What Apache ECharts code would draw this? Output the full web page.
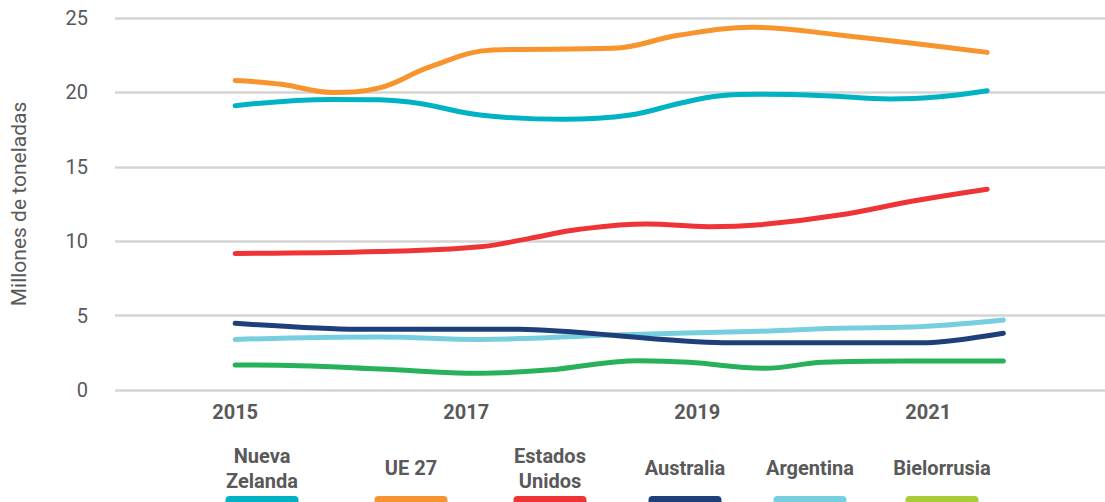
<!DOCTYPE html>
<html>
<head>
<meta charset="utf-8">
<script src="https://cdn.jsdelivr.net/npm/echarts@6/dist/echarts.min.js"></script>
<style>
  html, body { margin: 0; padding: 0; background: #fff; }
  #chart { width: 1105px; height: 502px; }
</style>
</head>
<body>
<div id="chart"></div>
<script>
// x tick labels (years) and y axis
var yearLabels = [2015, 2017, 2019, 2021];
var yMin = 0, yMax = 25, yStep = 5;

// series values, [year, millones de toneladas]
var nuevaZelanda = [[2015.00, 19.11], [2015.84, 19.53], [2016.25, 19.50], [2016.60, 19.25], [2017.12, 18.48], [2017.84, 18.19], [2018.42, 18.48], [2018.85, 19.27], [2019.20, 19.78], [2019.54, 19.87], [2020.10, 19.78], [2020.67, 19.56], [2021.10, 19.71], [2021.51, 20.11]];
var ue27 = [[2015.00, 20.80], [2015.40, 20.55], [2015.84, 20.00], [2016.25, 20.30], [2016.68, 21.70], [2017.23, 22.85], [2018.27, 22.96], [2018.85, 23.86], [2019.48, 24.37], [2020.23, 23.86], [2021.51, 22.69]];
var estadosUnidos = [[2015.00, 9.18], [2016.25, 9.30], [2017.12, 9.63], [2017.55, 10.19], [2017.98, 10.80], [2018.56, 11.16], [2019.10, 10.97], [2019.54, 11.10], [2020.23, 11.76], [2020.87, 12.70], [2021.51, 13.49]];
var australia = [[2015.00, 4.48], [2016.05, 4.08], [2017.46, 4.08], [2019.22, 3.18], [2020.99, 3.18], [2021.65, 3.81]];
var argentina = [[2015.00, 3.40], [2016.25, 3.56], [2017.12, 3.40], [2018.27, 3.70], [2019.54, 3.95], [2020.23, 4.15], [2020.95, 4.26], [2021.65, 4.70]];
var bielorrusia = [[2015.00, 1.68], [2015.56, 1.63], [2016.25, 1.41], [2017.12, 1.12], [2017.70, 1.34], [2018.50, 1.97], [2018.93, 1.86], [2019.58, 1.46], [2020.09, 1.86], [2020.81, 1.95], [2021.65, 1.95]];

var seriesNames = ['Nueva Zelanda', 'UE 27', 'Estados Unidos', 'Australia', 'Argentina', 'Bielorrusia'];
var legendLabels = ['Nueva\nZelanda', 'UE 27', 'Estados\nUnidos', 'Australia', 'Argentina', 'Bielorrusia'];
var seriesData = [nuevaZelanda, ue27, estadosUnidos, australia, argentina, bielorrusia];

var lineColors = ['#00b3c4', '#f7942e', '#ee3437', '#1f3f7a', '#76cfde', '#26b15a'];
var legendColors = ['#00b3c4', '#f7942e', '#ee3437', '#1f3f7a', '#76cfde', '#a8cb36'];
var smoothness = [0.4, 0.4, 0.4, 0.25, 0.4, 0.4];

var textColor = '#595959';
var fontFamily = 'Roboto, "Noto Sans", sans-serif';

var chart = echarts.init(document.getElementById('chart'), null, { renderer: 'svg' });

// legend drawn under the chart: label on top, coloured bar below
var legendX = [262, 411, 550, 685, 810, 942];
var legendItems = [];
for (var i = 0; i < seriesNames.length; i++) {
  legendItems.push({
    type: 'text',
    x: legendX[i],
    y: 468,
    style: {
      text: legendLabels[i],
      fill: textColor,
      font: 'bold 20px ' + fontFamily,
      lineHeight: 25,
      align: 'center',
      verticalAlign: 'middle'
    }
  });
  legendItems.push({
    type: 'rect',
    shape: { x: legendX[i] - 36.5, y: 496, width: 73, height: 14, r: 4 },
    style: { fill: legendColors[i] }
  });
}

var option = {
  backgroundColor: '#fff',
  animation: false,
  grid: {
    left: 115,
    right: 0,
    top: 18,
    bottom: 112
  },
  xAxis: {
    type: 'value',
    min: 2013.96,
    max: 2022.53,
    axisLine: { show: false },
    axisTick: { show: false },
    splitLine: { show: false },
    axisLabel: {
      customValues: yearLabels,
      formatter: function (v) { return String(Math.round(v)); },
      color: textColor,
      fontSize: 20,
      fontWeight: 'bold',
      fontFamily: fontFamily,
      margin: 12
    }
  },
  yAxis: {
    type: 'value',
    min: yMin,
    max: yMax,
    interval: yStep,
    name: 'Millones de toneladas',
    nameLocation: 'middle',
    nameGap: 86,
    nameRotate: 90,
    nameTextStyle: {
      color: textColor,
      fontSize: 21,
      fontFamily: fontFamily
    },
    axisLine: { show: false },
    axisTick: { show: false },
    axisLabel: {
      color: textColor,
      fontSize: 20,
      fontFamily: fontFamily,
      margin: 27
    },
    splitLine: {
      show: true,
      lineStyle: { color: '#d4d4d4', width: 2.5 }
    }
  },
  series: seriesNames.map(function (name, i) {
    return {
      name: name,
      type: 'line',
      data: seriesData[i],
      smooth: smoothness[i],
      showSymbol: false,
      symbol: 'none',
      lineStyle: { color: lineColors[i], width: 5, cap: 'round', join: 'round' },
      itemStyle: { color: lineColors[i] },
      z: 10 - i
    };
  }),
  graphic: legendItems
};

chart.setOption(option);
window.addEventListener('resize', function () {
  chart.resize();
});
</script>
</body>
</html>
